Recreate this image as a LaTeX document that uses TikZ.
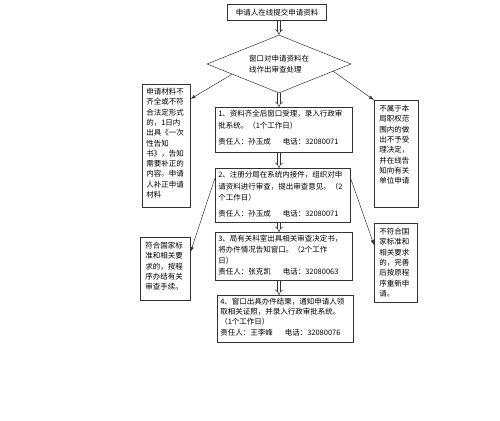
\documentclass[tikz,border=0pt]{standalone}
\usepackage{fontspec}
\setmainfont{Noto Sans CJK SC}
\usetikzlibrary{arrows.meta,shapes.geometric,calc,positioning}

\begin{document}
\begin{tikzpicture}[x=1pt,y=-1pt,line width=.5pt,
  box/.style={draw=black!80,anchor=north west,inner sep=3pt},
  side/.style={box,inner sep=5pt,font=\fontsize{7.5}{10.3}\selectfont},
  main/.style={box,font=\fontsize{7.5}{11.5}\selectfont},
  pass/.style={draw=black!80,double,double distance=2.4pt,-{Implies}},
  back/.style={draw=black!80,-{Latex[length=5pt,width=3.5pt]}}]
\def\cell#1#2#3{\parbox[c][#2pt][t]{#1pt}{#3}}
\useasboundingbox (0,0) rectangle (500,420);
% middle column
\node [draw=black!80,minimum width=99pt,minimum height=16pt,inner sep=0pt,
  font=\fontsize{7.5}{9}\selectfont] (top) at (277,12.5) {申请人在线提交申请资料};
\node [draw=black!80,shape=diamond,aspect=2.5,minimum width=144pt,minimum height=58pt,
  inner sep=0pt,align=left,font=\fontsize{7.5}{11}\selectfont] (dia) at (279,64)
  {窗口对申请资料在\\线作出审查处理};
\node [main] (b1) at (215,107) {\cell{131}{39}{1、资料齐全后窗口受理，录入行政审\\
  批系统。（1个工作日）\\[5pt]
  责任人：孙玉成\hspace{12pt}电话：32080071}};
\node [main] (b2) at (215,168) {\cell{129}{48}{2、注册分局在系统内接件，组织对申\\
  请资料进行审查，提出审查意见。（2\\
  个工作日）\\[4pt]
  责任人：孙玉成\hspace{12pt}电话：32080071}};
\node [main,font=\fontsize{7.5}{10.8}\selectfont] (b3) at (215,232) {\cell{131}{42}{3、局有关科室出具相关审查决定书，\\
  将办件情况告知窗口。（2个工作\\
  日）\\
  责任人：张克凯\hspace{12pt}电话：32080063}};
\node [main,font=\fontsize{7.5}{10.2}\selectfont] (b4) at (217,295) {\cell{130}{41}{4、窗口出具办件结果，通知申请人领\\
  取相关证照，并录入行政审批系统。\\
  （1个工作日）\\
  责任人：王李峰\hspace{12pt}电话：32080076}};
% side boxes
\node [side,inner sep=4pt] (l1) at (142,84) {\cell{40}{115}{申请材料不\\齐全或不符\\合法定形式\\的，1日内\\
  出具《一次\\性告知\\书》，告知\\需要补正的\\内容。申请\\人补正申请\\材料}};
\node [side] (r1) at (374,100) {\cell{34}{97}{不属于本\\局职权范\\围内的做\\出不予受\\理决定，\\
  并在线告\\知向有关\\单位申请}};
\node [side] (l2) at (140,237) {\cell{40}{53}{符合国家标\\准和相关要\\求的，按程\\序办结有关\\审查手续。}};
\node [side] (r2) at (374,223) {\cell{33}{69}{不符合国\\家标准和\\相关要求\\的，完善\\后按原程\\序重新申\\请。}};
\foreach \a/\b in {top/dia,dia/b1,b1/b2,b2/b3,b3/b4}
  \draw [pass] (\a.south -| dia) -- (\b.north -| dia);
\draw [back] ($(dia.west)!.35!(dia.south)$) -- ([yshift=-15pt]l1.north east);
\draw [back] ($(dia.east)!.25!(dia.south)$) -- (r1.north west);
\draw [back] ([yshift=-10pt]b2.north west) -- ([yshift=-15pt]l2.north east);
\draw [back] ([yshift=-10pt]b2.north east) -- ([yshift=-22pt]r2.north west);
\end{tikzpicture}
\end{document}
